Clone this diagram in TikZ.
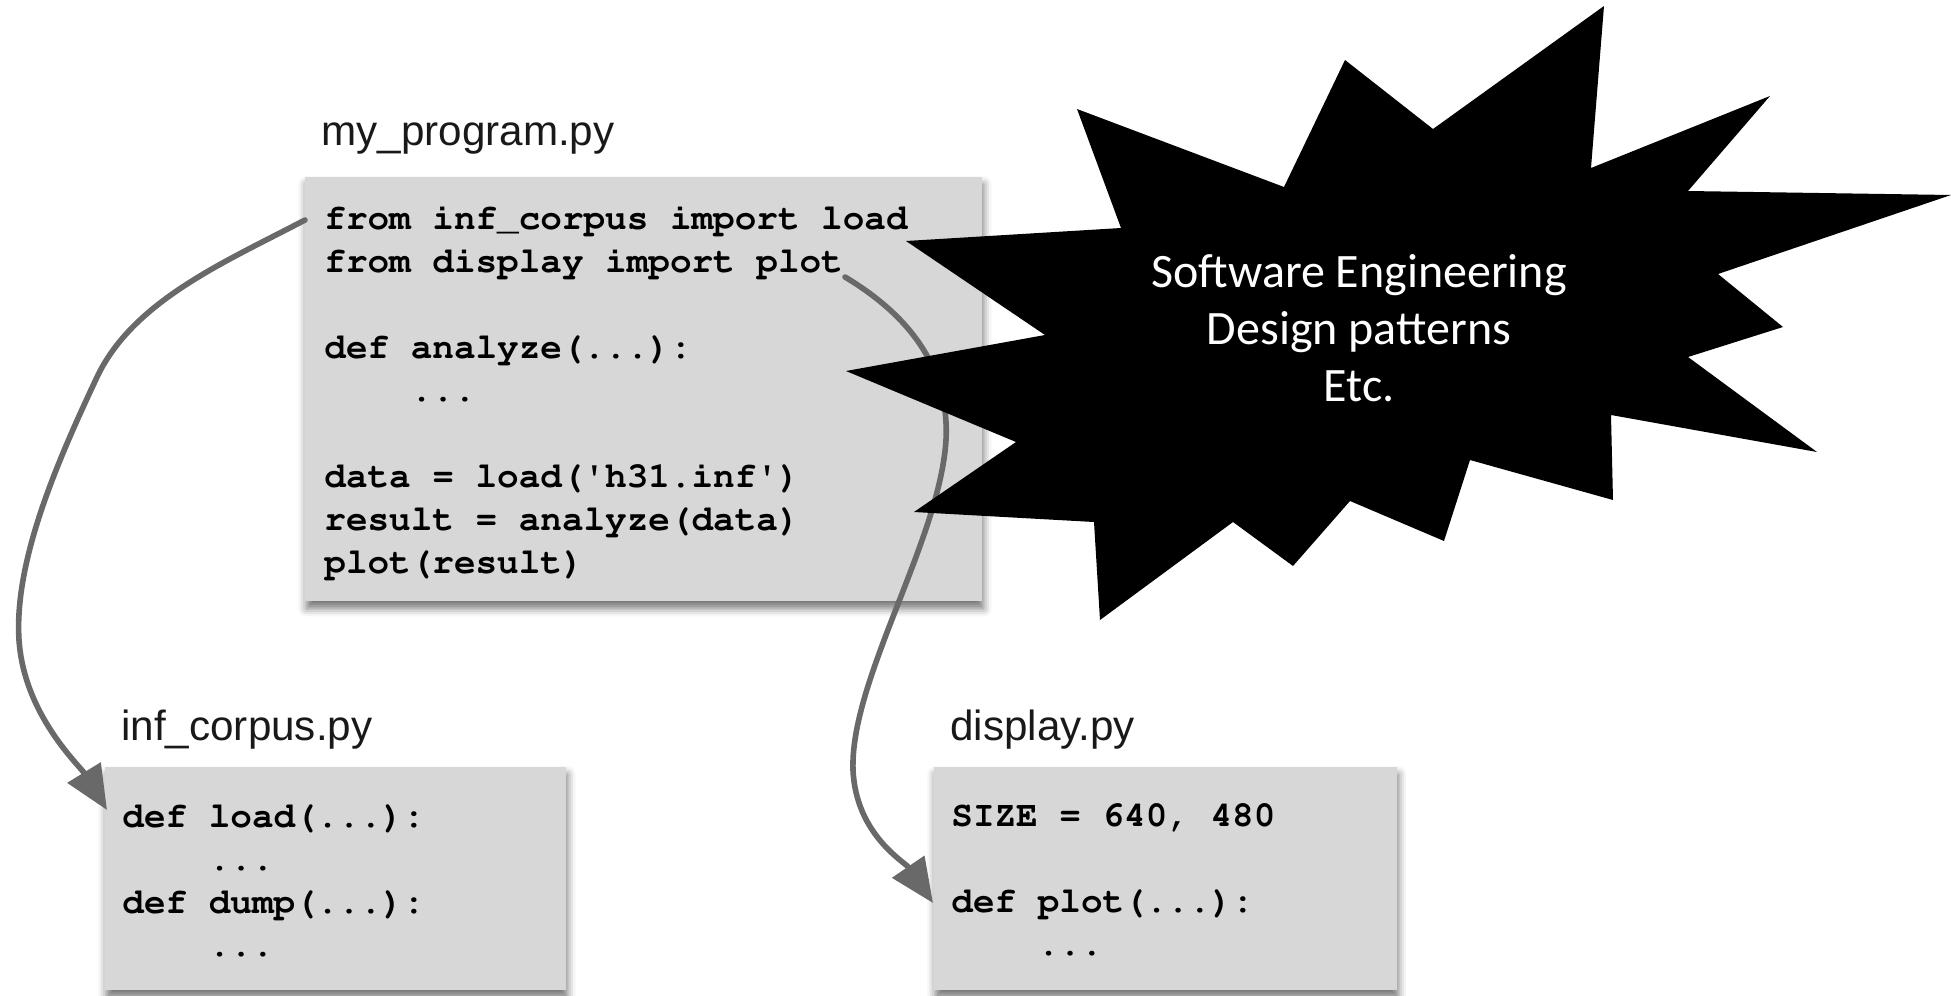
\documentclass[tikz,border=0pt]{standalone}
\usepackage[T1]{fontenc}
\usepackage{fontspec}
\newfontfamily\labelfont{Liberation Sans}
\newfontfamily\burstfont{Carlito}
\usetikzlibrary{arrows.meta,shadows.blur}
\newcommand\codefont{\fontencoding{T1}\fontfamily{pcr}\fontseries{b}\fontshape{n}\fontsize{18pt}{21.5pt}\selectfont}
\newcommand\cl[1]{\hbox{#1}}
\newcommand\ind{\hspace*{43.2pt}}
\definecolor{boxgray}{RGB}{215,215,215}
\definecolor{arrowgray}{RGB}{105,105,105}
\definecolor{labelink}{RGB}{25,25,25}
\tikzset{
  codebox/.style={anchor=north west, fill=boxgray, inner sep=0pt,
    blur shadow={shadow xshift=0.5pt, shadow yshift=-3.5pt, shadow blur radius=4pt, shadow opacity=55}},
  codetext/.style={anchor=base west, inner sep=0pt},
  filelabel/.style={anchor=base west, inner sep=0pt, text=labelink,
    font=\labelfont\fontsize{21.1pt}{25pt}\selectfont},
  bursttext/.style={anchor=base, inner sep=0pt, text=white,
    font=\burstfont\fontsize{24pt}{29pt}\selectfont},
  link/.style={draw=arrowgray, line width=2.8pt, line cap=round,
    -{Triangle[length=22pt,width=19pt]}}
}
\begin{document}
\begin{tikzpicture}[x=0.5pt,y=-0.5pt]
\useasboundingbox (0,0) rectangle (1951,996);

% boxes
\node[codebox, minimum width=338.5pt, minimum height=212pt] (mainbox) at (305,177) {};
\node[codebox, minimum width=230.5pt, minimum height=111.5pt] (corpbox) at (105,767) {};
\node[codebox, minimum width=231.5pt, minimum height=111.5pt] (dispbox) at (934,767) {};

% file labels
\node[filelabel] (mainlabel) at (321,145) {my\_program.py};
\node[filelabel] (corplabel) at (121,740) {inf\_corpus.py};
\node[filelabel] (displabel) at (950,740) {display.py};

% code
\node[codetext] (maincode) at (324,229) {\vtop{\codefont
  \cl{from inf\_corpus import load}
  \cl{from display import plot}
  \cl{}
  \cl{def analyze(...):}
  \cl{\ind ...}
  \cl{}
  \cl{data = load(\textquotesingle h31.inf\textquotesingle)}
  \cl{result = analyze(data)}
  \cl{plot(result)}}};
\node[codetext] (corpcode) at (122,827) {\vtop{\codefont
  \cl{def load(...):}
  \cl{\ind ...}
  \cl{def dump(...):}
  \cl{\ind ...}}};
\node[codetext] (dispcode) at (951,826) {\vtop{\codefont
  \cl{SIZE = 640, 480}
  \cl{}
  \cl{def plot(...):}
  \cl{\ind ...}}};

% connectors
\coordinate (src1) at (305,220);
\coordinate (dst1) at (107,810);
\coordinate (src2) at (845,277);
\coordinate (dst2) at (933,903);
\draw[link] (src1) .. controls (225,262) and (135,300) .. (98,375)
  .. controls (58,460) and (14,560) .. (19,640)
  .. controls (24,715) and (80,766) .. (dst1);
\draw[link] (src2) .. controls (900,310) and (950,360) .. (946,440)
  .. controls (940,540) and (850,680) .. (853,770)
  .. controls (856,835) and (905,862) .. (dst2);

% starburst
\fill[black] (1604,6) -- (1591,168) -- (1770,96) -- (1688,191) -- (1951,195)
  -- (1718,274) -- (1783,327) -- (1688,357) -- (1817,452) -- (1611,415)
  -- (1613,500) -- (1470,460) -- (1444,541) -- (1350,501) -- (1293,566)
  -- (1233,522) -- (1100,620) -- (1094,522) -- (914,512) -- (1016,442)
  -- (846,371) -- (1045,335) -- (906,241) -- (1121,228) -- (1077,109)
  -- (1284,187) -- (1345,60) -- (1433,129) -- cycle;
\node[bursttext] (burst1) at (1359,287) {Software Engineering};
\node[bursttext] (burst2) at (1359,344) {Design patterns};
\node[bursttext] (burst3) at (1359,401) {Etc.};
\end{tikzpicture}
\end{document}
